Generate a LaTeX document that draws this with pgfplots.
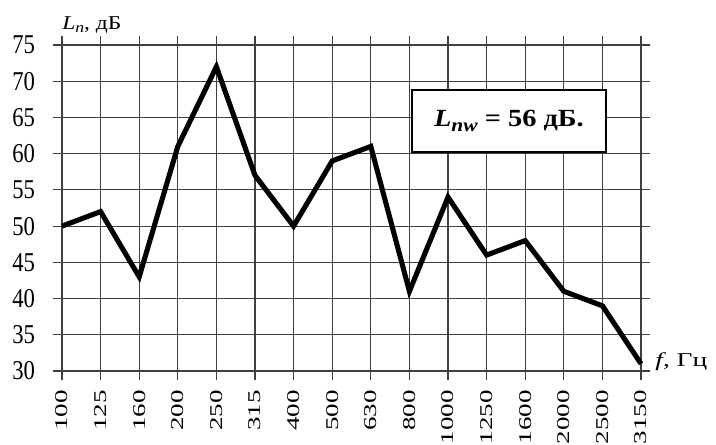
\documentclass[border=0pt]{standalone}
\usepackage{pgfplots}
\pgfplotsset{compat=1.18}
\usepackage{fontspec}
\setmainfont{Liberation Serif}
\definecolor{gridc}{HTML}{404040}
\begin{document}
\begin{tikzpicture}
\begin{axis}[
  at={(0,0)}, anchor=south west,
  scale only axis,
  width=434.25pt, height=244.5pt,
  xmin=0, xmax=15, ymin=30, ymax=75,
  xtick={0,...,15},
  xticklabels={100,125,160,200,250,315,400,500,630,800,1000,1250,1600,2000,2500,3150},
  ytick={30,35,...,75},
  yticklabel={\pgfmathprintnumber[assume math mode=true]{\tick}},
  grid=major,
  grid style={gridc, line width=0.85pt},
  axis line style={draw=none},
  tick align=outside,
  major tick length=7pt,
  tick style={gridc, line width=0.85pt},
  x tick label style={font=\fontsize{13.5}{15}\selectfont, yshift=-5pt, rotate=90, xscale=1.5, anchor=east, inner sep=1.5pt},
  y tick label style={font=\fontsize{17}{19}\selectfont, xshift=-11pt, yscale=1.2, inner sep=2pt},
  clip=false,
]
\addplot[black, line width=3.8pt, line join=miter, mark=none] coordinates {
 (0,50) (1,52) (2,43) (3,61) (4,72) (5,57) (6,50) (7,59)
 (8,61) (9,41) (10,54) (11,46) (12,48) (13,41) (14,39) (15,31)
};
\node[draw=black, line width=1.5pt, fill=white, minimum width=146pt, minimum height=46.5pt, inner sep=0pt]
  at (axis cs:11.58,64.5) {};
\node[inner sep=0pt, xscale=1.15, font=\fontsize{18.5}{21}\selectfont\bfseries] at (axis cs:11.58,64.5)
  {\textit{L}\raisebox{-0.4ex}{\fontsize{14}{16}\selectfont\textit{nw}} = 56 дБ.};
\node[anchor=base west, inner sep=0pt, xscale=1.2, font=\fontsize{14.7}{17}\selectfont] at ([yshift=12pt]axis cs:0,75)
  {\textit{L}\raisebox{-0.4ex}{\fontsize{11}{13}\selectfont\textit{n}}, дБ};
\node[anchor=base west, inner sep=0pt, xscale=1.4, font=\fontsize{14.7}{17}\selectfont] at ([xshift=10.5pt, yshift=3.5pt]axis cs:15,30)
  {\textit{f}, Гц};
\end{axis}
\pgfresetboundingbox
\path[use as bounding box] (-46.5pt,-55.5pt) rectangle (490.5pt,278.25pt);
\end{tikzpicture}
\end{document}
